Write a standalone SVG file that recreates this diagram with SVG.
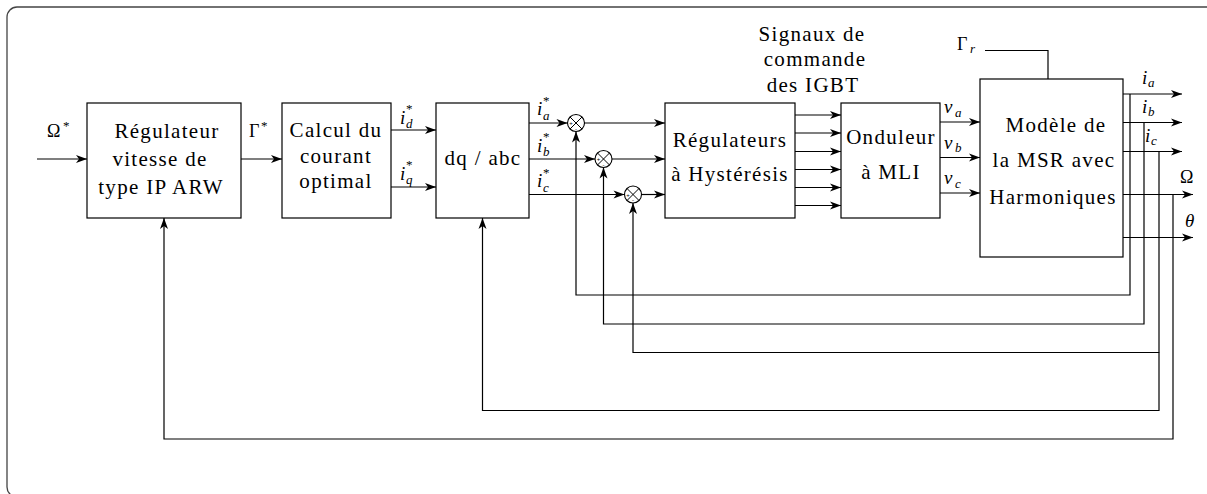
<svg xmlns="http://www.w3.org/2000/svg" width="1207" height="494" viewBox="0 0 1207 494">
<defs>
<style>
.box{fill:#fff;stroke:#000;stroke-width:1.2}
.w{fill:none;stroke:#000;stroke-width:1.2}
.wa{fill:none;stroke:#000;stroke-width:1.2;marker-end:url(#arr)}
.t{font-family:'Liberation Serif','Times New Roman',serif;font-size:21px;letter-spacing:1.3px;text-anchor:middle;fill:#000}
.m{font-family:'Liberation Serif','Times New Roman',serif;font-style:italic;font-size:19px;fill:#000}
.g{font-family:'Liberation Serif','Times New Roman',serif;font-size:18px;fill:#000}
.s{font-family:'Liberation Serif','Times New Roman',serif;font-style:italic;font-size:13px;fill:#000}
.p{font-family:'Liberation Serif','Times New Roman',serif;font-size:13px;fill:#000}
.sg{font-family:'Liberation Sans',sans-serif;font-size:6px;text-anchor:middle;fill:#000}
</style>
<marker id="arr" viewBox="-12 -5 13 10" refX="0" refY="0" markerWidth="13" markerHeight="10" markerUnits="userSpaceOnUse" orient="auto">
<path d="M0,0 L-11,-4 L-8,0 L-11,4 Z" fill="#000"/>
</marker>
</defs>
<rect x="7" y="7" width="1240" height="490" rx="10" ry="10" fill="none" stroke="#444" stroke-width="1.3"/>

<g id="reg-vitesse">
<rect class="box" x="87" y="103" width="154" height="115"/>
<text class="t" x="167" y="137.5">Régulateur</text>
<text class="t" x="160" y="166">vitesse de</text>
<text class="t" x="161" y="194">type IP ARW</text>
</g>
<g id="calcul-courant">
<rect class="box" x="282" y="103" width="109" height="115"/>
<text class="t" x="336" y="137">Calcul du</text>
<text class="t" x="336" y="163">courant</text>
<text class="t" x="336" y="188">optimal</text>
</g>
<g id="dq-abc">
<rect class="box" x="436" y="103" width="93" height="115"/>
<text class="t" x="483" y="165">dq / abc</text>
</g>
<g id="reg-hysteresis">
<rect class="box" x="665" y="103" width="130" height="115"/>
<text class="t" x="730" y="146.5">Régulateurs</text>
<text class="t" x="730" y="180.5">à Hystérésis</text>
</g>
<g id="onduleur">
<rect class="box" x="841" y="103" width="99" height="115"/>
<text class="t" x="891" y="144">Onduleur</text>
<text class="t" x="891" y="179">à MLI</text>
</g>
<g id="msr">
<rect class="box" x="980" y="79" width="143" height="178"/>
<text class="t" x="1056" y="131.5">Modèle de</text>
<text class="t" x="1054" y="166.5">la MSR avec</text>
<text class="t" x="1053" y="204">Harmoniques</text>
</g>
<g id="signaux-label">
<text class="t" x="812" y="41">Signaux de</text>
<text class="t" x="815" y="66">commande</text>
<text class="t" x="813" y="92">des IGBT</text>
</g>

<g id="sum-a">
<circle cx="576" cy="123" r="8.5" fill="#fff" stroke="#000" stroke-width="1.1"/>
<path d="M570,117 L582,129 M582,117 L570,129" stroke="#000" stroke-width="1"/>
<text class="sg" x="571" y="125">+</text><text class="sg" x="576" y="130.5">-</text>
</g>
<g id="sum-b">
<circle cx="603.5" cy="159" r="8.5" fill="#fff" stroke="#000" stroke-width="1.1"/>
<path d="M597.5,153 L609.5,165 M609.5,153 L597.5,165" stroke="#000" stroke-width="1"/>
<text class="sg" x="598.5" y="161">+</text><text class="sg" x="603.5" y="166.5">-</text>
</g>
<g id="sum-c">
<circle cx="633" cy="194.5" r="8.5" fill="#fff" stroke="#000" stroke-width="1.1"/>
<path d="M627,188.5 L639,200.5 M639,188.5 L627,200.5" stroke="#000" stroke-width="1"/>
<text class="sg" x="628" y="196.5">+</text><text class="sg" x="633" y="202">-</text>
</g>

<g id="connectors">
<path class="wa" d="M37,159 H87"/>
<path class="wa" d="M241,159 H282"/>
<path class="wa" d="M391,130 H436"/>
<path class="wa" d="M391,187 H436"/>
<path class="wa" d="M529,123 H567.5"/>
<path class="wa" d="M529,159 H595"/>
<path class="wa" d="M529,194.5 H624.5"/>
<path class="wa" d="M584.5,123 H665"/>
<path class="wa" d="M612,159 H665"/>
<path class="wa" d="M641.5,194.5 H665"/>
<path class="wa" d="M795,115 H841"/>
<path class="wa" d="M795,133 H841"/>
<path class="wa" d="M795,151.5 H841"/>
<path class="wa" d="M795,169.5 H841"/>
<path class="wa" d="M795,187.5 H841"/>
<path class="wa" d="M795,205.5 H841"/>
<path class="wa" d="M940,122 H980"/>
<path class="wa" d="M940,157.5 H980"/>
<path class="wa" d="M940,193 H980"/>
<path class="w" d="M985,50.5 H1048 V79"/>
<path class="wa" d="M1123,94 H1182"/>
<path class="wa" d="M1123,122.5 H1182"/>
<path class="wa" d="M1123,151.5 H1182"/>
<path class="wa" d="M1123,194.5 H1193"/>
<path class="wa" d="M1123,237.5 H1193"/>
<path class="wa" d="M1130,94 V295 H576 V131.5"/>
<path class="wa" d="M1144,122.5 V324 H603.5 V167.5"/>
<path class="wa" d="M1159,151.5 V352.5 H633 V203"/>
<path class="wa" d="M1159,352.5 V410.5 H482.5 V218"/>
<path class="wa" d="M1173,194.5 V439 H164 V218"/>
</g>

<g id="labels">
<text class="g" x="47" y="137">Ω</text><text class="p" x="63" y="130">*</text>
<text class="g" x="249" y="137">Γ</text><text class="p" x="261" y="130">*</text>
<text class="m" x="400" y="124">i</text><text class="p" x="406" y="113">*</text><text class="s" x="406" y="128">d</text>
<text class="m" x="400" y="180">i</text><text class="p" x="406" y="169">*</text><text class="s" x="406" y="184">q</text>
<text class="m" x="537" y="115">i</text><text class="p" x="543" y="105">*</text><text class="s" x="543" y="119.5">a</text>
<text class="m" x="537" y="151.5">i</text><text class="p" x="543" y="141">*</text><text class="s" x="543" y="156">b</text>
<text class="m" x="537" y="187">i</text><text class="p" x="543" y="176.5">*</text><text class="s" x="543" y="191.5">c</text>
<text class="m" x="944" y="113">v</text><text class="s" x="955" y="117">a</text>
<text class="m" x="944" y="148.5">v</text><text class="s" x="955" y="152">b</text>
<text class="m" x="944" y="184">v</text><text class="s" x="955" y="188">c</text>
<text class="g" x="957" y="50">Γ</text><text class="s" x="970" y="53">r</text>
<text class="m" x="1142" y="84">i</text><text class="s" x="1148" y="87">a</text>
<text class="m" x="1142" y="112.5">i</text><text class="s" x="1148" y="115.5">b</text>
<text class="m" x="1145" y="141.5">i</text><text class="s" x="1151" y="144.5">c</text>
<text class="g" x="1180" y="183">Ω</text>
<text class="m" x="1185" y="227">θ</text>
</g>
</svg>
